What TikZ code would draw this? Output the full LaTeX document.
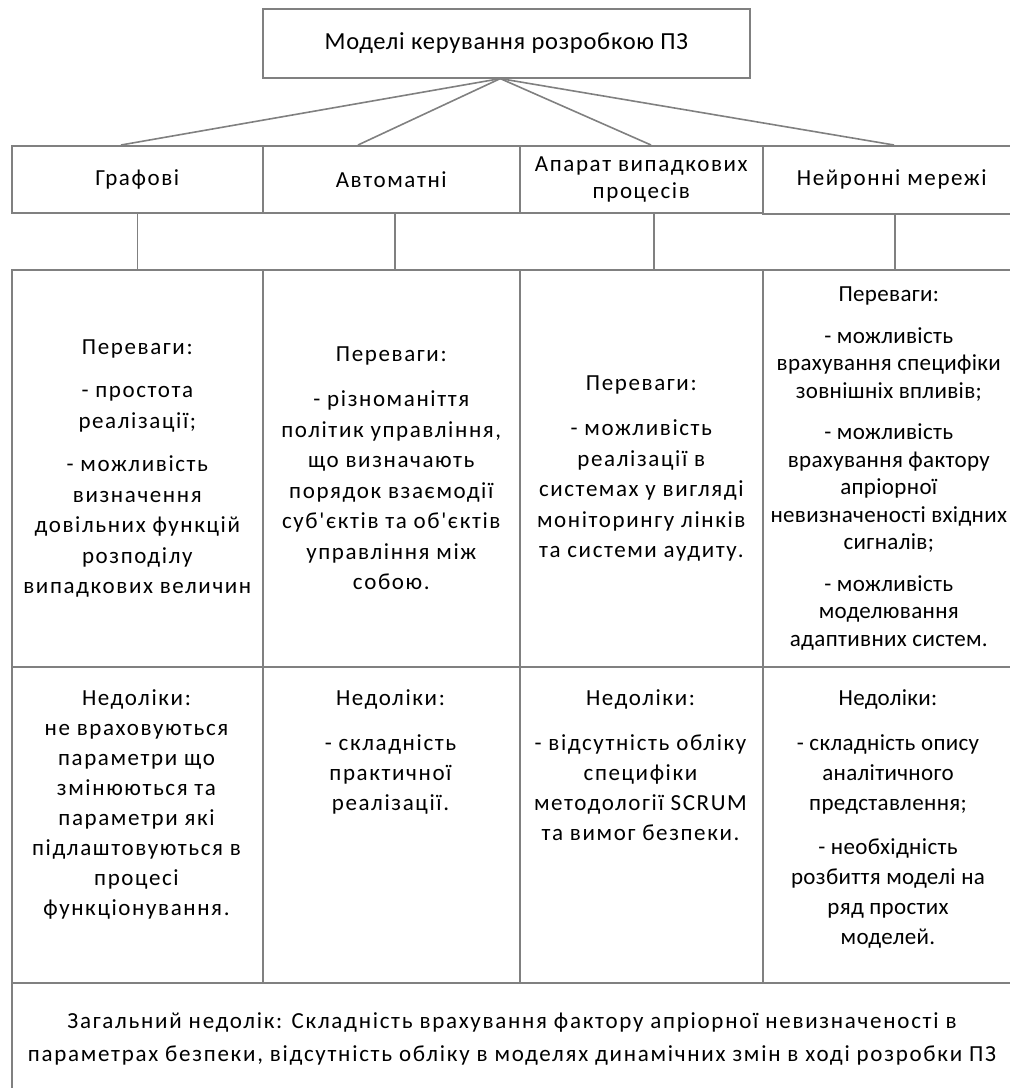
\documentclass[tikz,border=0pt]{standalone}
\usepackage{fontspec}
\setmainfont{Carlito}[Ligatures=TeXOff, LetterSpace=7]
\newfontfamily\topfont{Carlito}[Ligatures=TeXOff, LetterSpace=3]
\newfontfamily\tightfont{Carlito}[Ligatures=TeXOff, LetterSpace=1.5]
\newfontfamily\widefont{Carlito}[Ligatures=TeXOff, LetterSpace=7.5]
\definecolor{lc}{RGB}{128,128,128}
\tikzset{
  box/.style={draw=lc, line width=1.6pt, rectangle, inner sep=0pt, anchor=north west, align=center, font=\fontsize{23}{27}\selectfont},
  conn/.style={draw=lc, line width=1.6pt},
  txt/.style={align=center, inner sep=0pt},
  pa/.style={txt, font=\fontsize{23}{30.5}\selectfont},
  pb/.style={txt, font=\tightfont\fontsize{23}{27.5}\selectfont},
  na/.style={txt, anchor=north, font=\fontsize{23}{30}\selectfont},
}
\begin{document}
\begin{tikzpicture}[x=1pt,y=-1pt]
\clip (0,0) rectangle (1010,1088);
% top
\node[box, minimum width=487pt, minimum height=69pt, font=\topfont\fontsize{24.5}{27}\selectfont] (top) at (262,8) {Моделі керування розробкою ПЗ};
% header row
\node[box, minimum width=251pt, minimum height=67pt] (g1) at (11,145) {Графові};
\node[box, minimum width=257pt, minimum height=67pt] (g2) at (262,145) {Автоматні};
\node[box, minimum width=243pt, minimum height=67pt] (g3) at (519,145) {Апарат випадкових\\процесів};
\node[box, minimum width=258pt, minimum height=68pt] (g4) at (762,145) {Нейронні мережі};
% connectors from top
\coordinate (c1) at (121,145);
\coordinate (c2) at (358,145);
\coordinate (c3) at (651,145);
\coordinate (c4) at (894,145);
\draw[conn] ([xshift=-6pt]top.south) -- (c1);
\draw[conn] ([xshift=-6pt]top.south) -- (c2);
\draw[conn] ([xshift=-6pt]top.south) -- (c3);
\draw[conn] ([xshift=-6pt]top.south) -- (c4);
% advantages row
\node[box, minimum width=251pt, minimum height=397pt] (p1) at (11,269) {};
\node[box, minimum width=257pt, minimum height=397pt] (p2) at (262,269) {};
\node[box, minimum width=243pt, minimum height=397pt] (p3) at (519,269) {};
\node[box, minimum width=258pt, minimum height=397pt] (p4) at (762,269) {};
% disadvantages row
\node[box, minimum width=251pt, minimum height=316pt] (n1) at (11,666) {};
\node[box, minimum width=257pt, minimum height=316pt] (n2) at (262,666) {};
\node[box, minimum width=243pt, minimum height=316pt] (n3) at (519,666) {};
\node[box, minimum width=258pt, minimum height=316pt] (n4) at (762,666) {};
% bottom
\node[box, minimum width=1009pt, minimum height=120pt] (b) at (11,982) {};
% vertical connectors
\draw[conn] (g1.south) -- (p1.north);
\draw[conn] ([xshift=3.5pt]g2.south) -- ([xshift=3.5pt]p2.north);
\draw[conn] ([xshift=12.5pt]g3.south) -- ([xshift=12.5pt]p3.north);
\draw[conn] ([xshift=3pt]g4.south) -- ([xshift=3pt]p4.north);
% texts advantages
\node[pa] (tp1) at (p1.center) {Переваги:\\[13pt]- простота\\реалізації;\\[13pt]- можливість\\визначення\\довільних функцій\\розподілу\\випадкових величин};
\node[pa] (tp2) at (p2.center) {Переваги:\\[15pt]- різноманіття\\політик управління,\\що визначають\\порядок взаємодії\\суб'єктів та об'єктів\\управління між\\собою.};
\node[pa] (tp3) at (p3.center) {Переваги:\\[15pt]- можливість\\реалізації в\\системах у вигляді\\моніторингу лінків\\та системи аудиту.};
\node[pb] (tp4) at ([xshift=-3pt]p4.center) {Переваги:\\[14pt]- можливість\\врахування специфіки\\зовнішніх впливів;\\[14pt]- можливість\\врахування фактору\\апріорної\\невизначеності вхідних\\сигналів;\\[14pt]- можливість\\моделювання\\адаптивних систем.};
% texts disadvantages
\node[na] (tn1) at (136.5,689) {Недоліки:\\не враховуються\\параметри що\\змінюються та\\параметри які\\підлаштовуються в\\процесі\\функціонування.};
\node[na] (tn2) at (390.5,689) {Недоліки:\\[15pt]- складність\\практичної\\реалізації.};
\node[na] (tn3) at (640.5,689) {Недоліки:\\[15pt]- відсутність обліку\\специфіки\\методології SCRUM\\та вимог безпеки.};
\node[na, font=\tightfont\fontsize{23}{30}\selectfont] (tn4) at (888,689) {Недоліки:\\[15pt]- складність опису\\аналітичного\\представлення;\\[14pt]- необхідність\\розбиття моделі на\\ряд простих\\моделей.};
% bottom text
\node[txt, font=\widefont\fontsize{23}{33}\selectfont] (tb) at (512,1039) {Загальний недолік: Складність врахування фактору апріорної невизначеності в\\параметрах безпеки, відсутність обліку в моделях динамічних змін в ході розробки ПЗ};
\end{tikzpicture}
\end{document}
